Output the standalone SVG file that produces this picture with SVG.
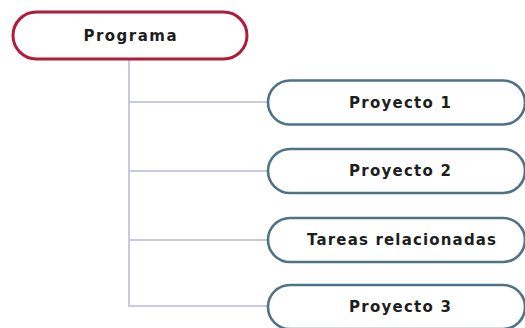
<svg xmlns="http://www.w3.org/2000/svg" width="525" height="328" viewBox="0 0 525 328">
<style>
.root{fill:#fff;stroke:#b31a3a;stroke-width:3}
.proj{fill:#fff;stroke:#4e7387;stroke-width:2.6}
.conn{fill:none;stroke:#c9c9e2;stroke-width:2}
text{font-family:"DejaVu Sans","Liberation Sans",sans-serif;font-weight:bold;font-size:15px;fill:#1e1e1e;text-anchor:middle}
</style>
<rect width="525" height="328" fill="#fff"/>
<g id="connectors">
<path class="conn" d="M129,59 V306 H268"/>
<path class="conn" d="M129,102 H268"/>
<path class="conn" d="M129,171 H268"/>
<path class="conn" d="M129,240 H268"/>
</g>
<g id="programa">
<rect class="root" x="13" y="12" width="234" height="47" rx="23.5"/>
<text x="130" y="40.5" textLength="93" lengthAdjust="spacing">Programa</text>
</g>
<g id="proyecto1">
<rect class="proj" x="268" y="80.5" width="257" height="44" rx="22"/>
<text x="400" y="107.5" textLength="102" lengthAdjust="spacing">Proyecto 1</text>
</g>
<g id="proyecto2">
<rect class="proj" x="268" y="149" width="257" height="44" rx="22"/>
<text x="400" y="176" textLength="102" lengthAdjust="spacing">Proyecto 2</text>
</g>
<g id="tareas">
<rect class="proj" x="268" y="218" width="257" height="44" rx="22"/>
<text x="401.5" y="245" textLength="189" lengthAdjust="spacing">Tareas relacionadas</text>
</g>
<g id="proyecto3">
<rect class="proj" x="268" y="285" width="257" height="44" rx="22"/>
<text x="400" y="312" textLength="102" lengthAdjust="spacing">Proyecto 3</text>
</g>
</svg>
